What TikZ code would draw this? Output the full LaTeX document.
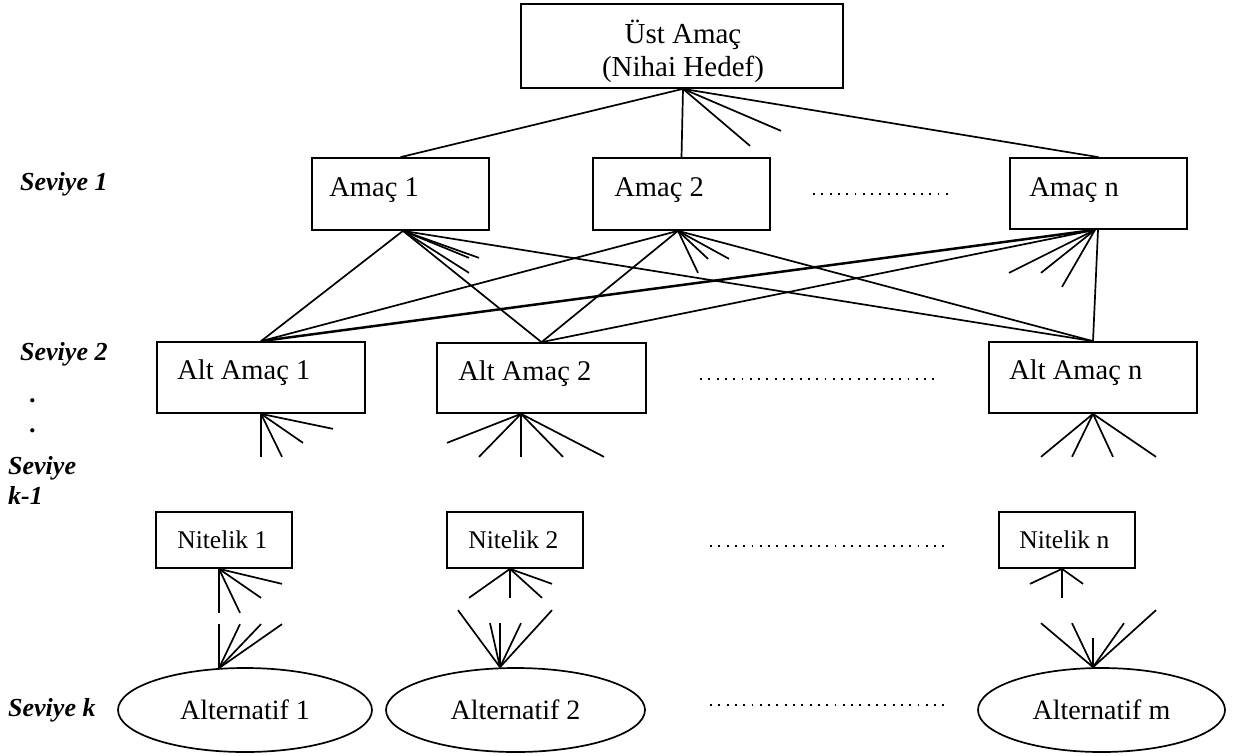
\documentclass[tikz,border=0pt]{standalone}
\usepackage{fontspec}
\setmainfont{Liberation Serif}
\usetikzlibrary{calc,shapes.geometric}
\begin{document}
\begin{tikzpicture}[x=1pt,y=-1pt,
  box/.style={draw, rectangle, inner sep=0pt, line width=1.7pt},
  oval/.style={draw, ellipse, inner sep=0pt, line width=1.7pt, minimum height=84pt, font=\fontsize{28}{33}\selectfont},
  txt/.style={inner sep=0pt, anchor=base west, font=\fontsize{28.5}{33}\selectfont},
  ntxt/.style={inner sep=0pt, anchor=base west, font=\fontsize{25.5}{30}\selectfont},
  lev/.style={inner sep=0pt, anchor=base west, font=\fontsize{26}{30}\selectfont\bfseries\itshape},
  edge/.style={line width=1.7pt},
  dots/.style={line width=1.9pt, dash pattern=on 1.9pt off 6.4pt}]
\useasboundingbox (0,0) rectangle (1233,755);
% boxes
\node[box, minimum width=322pt, minimum height=84pt] (top) at (682,46) {};
\node[inner sep=0pt, align=center, font=\fontsize{29}{33}\selectfont] (ttop) at (683,51) {Üst Amaç\\(Nihai Hedef)};
\node[box, minimum width=177pt, minimum height=72pt] (a1) at (400.5,194) {};
\node[box, minimum width=177pt, minimum height=72pt] (a2) at (681.5,194) {};
\node[box, minimum width=177pt, minimum height=71pt] (an) at (1098.5,193.5) {};
\node[box, minimum width=208pt, minimum height=71pt] (s1) at (261,377.5) {};
\node[box, minimum width=209pt, minimum height=70pt] (s2) at (541.5,378) {};
\node[box, minimum width=208pt, minimum height=71pt] (sn) at (1093,377.5) {};
\node[box, minimum width=136pt, minimum height=56pt] (n1) at (224,540) {};
\node[box, minimum width=136pt, minimum height=56pt] (n2) at (515,540) {};
\node[box, minimum width=136pt, minimum height=56pt] (nn) at (1067,540) {};
\node[oval, minimum width=254pt] (e1) at (245,710) {Alternatif 1};
\node[oval, minimum width=259pt] (e2) at (515.5,710) {Alternatif 2};
\node[oval, minimum width=247pt] (em) at (1101.5,710) {Alternatif m};
% box texts
\node[txt] (ta1) at ($(a1.north west)+(18,39)$) {Amaç 1};
\node[txt] (ta2) at ($(a2.north west)+(22,39)$) {Amaç 2};
\node[txt] (tan) at ($(an.north west)+(20,39)$) {Amaç n};
\node[txt] (ts1) at ($(s1.north west)+(21,38)$) {Alt Amaç 1};
\node[txt] (ts2) at ($(s2.north west)+(22,38)$) {Alt Amaç 2};
\node[txt] (tsn) at ($(sn.north west)+(21,38)$) {Alt Amaç n};
\node[ntxt] (tn1) at ($(n1.north west)+(22,37)$) {Nitelik 1};
\node[ntxt] (tn2) at ($(n2.north west)+(22,37)$) {Nitelik 2};
\node[ntxt] (tnn) at ($(nn.north west)+(21,37)$) {Nitelik n};
% level labels
\node[lev] (l1) at (20,190) {Seviye 1};
\node[lev] (l2) at (20,360) {Seviye 2};
\node[lev] (d1) at (30,402) {.};
\node[lev] (d2) at (30,432) {.};
\node[lev] (l3) at (8,474) {Seviye};
\node[lev] (l3b) at (8,504) {k-1};
\node[lev] (l4) at (8,716) {Seviye k};
% dotted rows
\coordinate (r1a) at (813,194); \coordinate (r1b) at (948,194);
\coordinate (r2a) at (700,379); \coordinate (r2b) at (936,379);
\coordinate (r3a) at (710,546); \coordinate (r3b) at (944,546);
\coordinate (r4a) at (710,705); \coordinate (r4b) at (944,705);
\draw[dots] (r1a) -- (r1b);
\draw[dots] (r2a) -- (r2b);
\draw[dots] (r3a) -- (r3b);
\draw[dots] (r4a) -- (r4b);
% anchor points
\coordinate (T) at ($(top.south)+(1,0)$);
\coordinate (A1) at ($(a1.south)+(2.5,0)$);
\coordinate (A2) at ($(a2.south)+(-3.5,0)$);
\coordinate (AN) at ($(an.south)+(-3.5,0)$);
\coordinate (ANv) at ($(an.south)+(-0.5,0)$);
\coordinate (S2) at ($(s2.south)+(-20.5,0)$);
\coordinate (N1) at ($(n1.south)+(-5,0)$);
\coordinate (N2) at ($(n2.south)+(-5,0)$);
\coordinate (NN) at ($(nn.south)+(-5,0)$);
\coordinate (E1) at ($(e1.north)+(-26,1)$);
\coordinate (E2) at ($(e2.north)+(-15.5,0)$);
\coordinate (EM) at ($(em.north)+(-8.5,0)$);
% top level
\draw[edge] (T) -- (a1.north);
\draw[edge] (T) -- (a2.north);
\draw[edge] (T) -- (an.north);
\foreach \dx/\dy in {67/57, 98/42} \draw[edge] (T) -- ++(\dx,\dy);
% level 1 -> level 2
\draw[edge] (A1) -- (s1.north);
\draw[edge] (A1) -- (s2.north);
\draw[edge] (A1) -- (sn.north);
\foreach \dx/\dy in {66/27, 76/27, 66/42} \draw[edge] (A1) -- ++(\dx,\dy);
\draw[edge] (A2) -- (s1.north);
\draw[edge] (A2) -- (s2.north);
\draw[edge] (A2) -- (sn.north);
\foreach \dx/\dy in {20/42, 30/28, 51/28} \draw[edge] (A2) -- ++(\dx,\dy);
\draw[edge, line width=2.5pt] (AN) -- (s1.north);
\draw[edge] (AN) -- (s2.north);
\draw[edge] (ANv) -- (sn.north);
\foreach \dx/\dy in {-86/43, -54/43, -33/57} \draw[edge] (AN) -- ++(\dx,\dy);
% fans below level 2
\foreach \dx/\dy in {0/43, 21/43, 42/29, 72/15} \draw[edge] (s1.south) -- ++(\dx,\dy);
\foreach \dx/\dy in {-74/29, -42/43, 0/43, 42/43, 83/43} \draw[edge] (S2) -- ++(\dx,\dy);
\foreach \dx/\dy in {-52/43, -21/43, 20/43, 63/43} \draw[edge] (sn.south) -- ++(\dx,\dy);
% fans below level k-1
\foreach \dx/\dy in {0/44, 21/44, 42/29, 63/15} \draw[edge] (N1) -- ++(\dx,\dy);
\foreach \dx/\dy in {-41/29, 0/29, 32/29, 42/15} \draw[edge] (N2) -- ++(\dx,\dy);
\foreach \dx/\dy in {-32/15, 0/29, 21/15} \draw[edge] (NN) -- ++(\dx,\dy);
% fans above alternatives
\foreach \dx/\dy in {0/-44, 21/-44, 42/-44, 63/-44} \draw[edge] (E1) -- ++(\dx,\dy);
\foreach \dx/\dy in {-42/-57, -10/-44, 0/-44, 21/-44, 52/-57} \draw[edge] (E2) -- ++(\dx,\dy);
\foreach \dx/\dy in {-52/-44, -21/-44, 0/-29, 31/-44, 63/-57} \draw[edge] (EM) -- ++(\dx,\dy);
\end{tikzpicture}
\end{document}
